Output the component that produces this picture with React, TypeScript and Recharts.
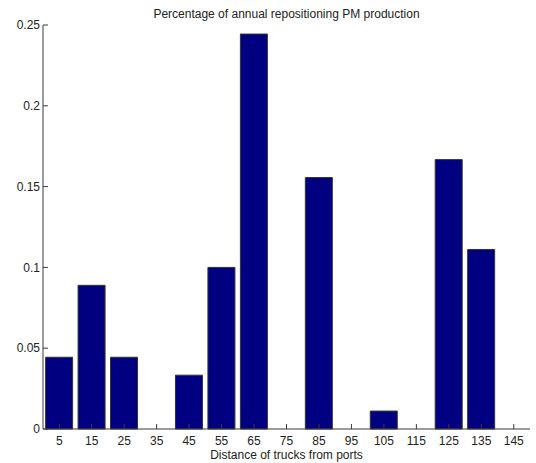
import { BarChart, Bar, XAxis, YAxis } from "recharts";

const distances = ["5", "15", "25", "35", "45", "55", "65", "75", "85", "95", "105", "115", "125", "135", "145"];
const shares = [0.0444, 0.0889, 0.0444, 0, 0.0333, 0.1, 0.2444, 0, 0.1556, 0, 0.0111, 0, 0.1667, 0.1111, 0];
const yTicks = [0, 0.05, 0.1, 0.15, 0.2, 0.25];

const data = distances.map((d, i) => ({ distance: d, share: shares[i] }));

const font = "'Liberation Sans', Arial, sans-serif";
const axisColor = "#3a3a3a";
const tickStyle = { fontSize: 12, fill: "#222", fontFamily: font };

export default function App() {
  return (
    <div style={{ position: "absolute", left: 0, top: 0, width: 536, height: 463, background: "#fff" }}>
      <div
        style={{
          position: "absolute",
          left: 43,
          width: 487,
          top: 6,
          textAlign: "center",
          fontFamily: font,
          fontSize: 12,
          color: "#222",
          lineHeight: "16px",
        }}
      >
        Percentage of annual repositioning PM production
      </div>
      <BarChart
        width={536}
        height={463}
        data={data}
        margin={{ top: 25, right: 6, left: 0, bottom: 0 }}
        barCategoryGap="8%"
      >
        <XAxis
          dataKey="distance"
          height={34}
          stroke={axisColor}
          tickSize={-5}
          tickMargin={12}
          tick={tickStyle}
          interval={0}
          label={{
            value: "Distance of trucks from ports",
            position: "insideBottom",
            offset: 4,
            style: { fontSize: 12, fill: "#222", fontFamily: font },
          }}
        />
        <XAxis
          xAxisId="top"
          dataKey="distance"
          orientation="top"
          height={0}
          stroke={axisColor}
          tickSize={-5}
          interval={0}
          tickFormatter={() => ""}
        />
        <YAxis
          width={43}
          domain={[0, 0.25]}
          ticks={yTicks}
          stroke={axisColor}
          tickSize={-5}
          tickMargin={8}
          tick={tickStyle}
          interval={0}
        />
        <YAxis
          yAxisId="right"
          orientation="right"
          width={0}
          domain={[0, 0.25]}
          ticks={yTicks}
          stroke={axisColor}
          tickSize={-5}
          interval={0}
          tickFormatter={() => ""}
        />
        <Bar
          dataKey="share"
          fill="#000080"
          stroke="#333"
          strokeWidth={1}
          isAnimationActive={false}
        />
      </BarChart>
    </div>
  );
}
